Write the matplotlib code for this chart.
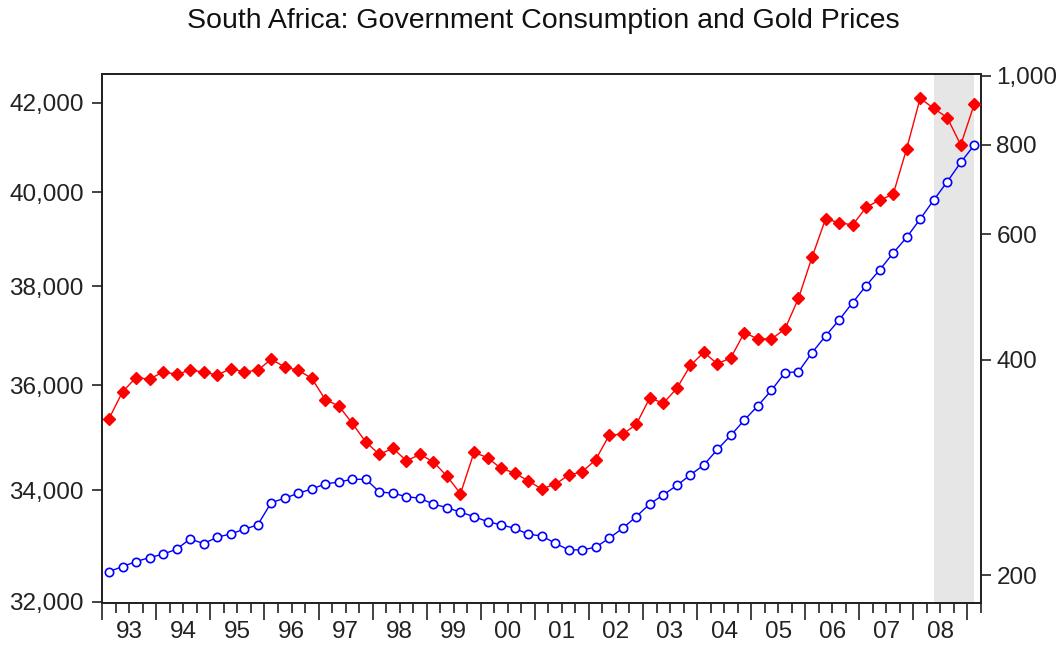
import matplotlib.pyplot as plt
import matplotlib.ticker as mticker
import matplotlib.transforms as mtrans
import numpy as np

plt.rcParams['font.family'] = ['Liberation Sans', 'DejaVu Sans']

# quarterly data 1993Q1 - 2009Q1
gov_consumption = [32527, 32616, 32705, 32776, 32837, 32926, 33111, 33027,
                   33142, 33201, 33286, 33365, 33773, 33853, 33946, 34025,
                   34118, 34155, 34205, 34205, 33970, 33946, 33883, 33853,
                   33744, 33681, 33597, 33516, 33425, 33365, 33305, 33196,
                   33166, 33034, 32914, 32914, 32962, 33124, 33305, 33516,
                   33749, 33915, 34090, 34286, 34473, 34765, 35035, 35328,
                   35604, 35904, 36250, 36270, 36647, 36982, 37305, 37659,
                   38009, 38336, 38692, 39024, 39415, 39825, 40224, 40651,
                   41036]
gold_price = [331, 361, 378, 376, 385, 382, 387, 385,
              381, 389, 385, 387, 401, 391, 387, 377,
              352, 345, 326, 307, 295, 301, 289, 295,
              288, 275, 260, 297, 292, 282, 278, 271,
              264, 268, 276, 279, 290, 314, 315, 325,
              354, 348, 365, 393, 410, 395, 403, 437,
              428, 428, 442, 488, 557, 630, 623, 618,
              654, 670, 682, 790, 930, 900, 874, 800,
              912]
year_labels = ['93', '94', '95', '96', '97', '98', '99', '00',
               '01', '02', '03', '04', '05', '06', '07', '08']
left_ticks = [32000, 34000, 36000, 38000, 40000, 42000]
right_ticks = [200, 400, 600, 800, 1000]
shade_from = 61   # 2008Q2
shade_to = 64     # 2009Q1

first_year = 1993
x = first_year + (np.arange(len(gov_consumption)) + 0.5) / 4

fig = plt.figure(figsize=(10.61, 6.48), dpi=100)
ax = fig.add_axes([0.0961, 0.069, 0.8285, 0.8163])
ax2 = ax.twinx()

ax.axvspan(x[shade_from], x[shade_to], color='#e6e6e6', lw=0, zorder=0)

ax.plot(x, gov_consumption, color='#0000ff', lw=1, marker='o', ms=6,
        mfc='white', mec='#0000ff', mew=1.2, zorder=3)
ax2.plot(x, gold_price, color='#ff0000', lw=1, marker='D', ms=6.3,
         mfc='#ff0000', mec='#ff0000', zorder=3)

ax.set_yscale('log')
ax.set_ylim(31970, 42650)
ax.yaxis.set_major_locator(mticker.FixedLocator(left_ticks))
ax.yaxis.set_minor_locator(mticker.NullLocator())
ax.yaxis.set_major_formatter(mticker.FuncFormatter(lambda v, p: f'{v:,.0f}'))

ax2.set_yscale('log')
ax2.set_ylim(182.6, 1004.5)
ax2.yaxis.set_major_locator(mticker.FixedLocator(right_ticks))
ax2.yaxis.set_minor_locator(mticker.NullLocator())
ax2.yaxis.set_major_formatter(mticker.FuncFormatter(lambda v, p: f'{v:,.0f}'))

n_years = len(year_labels)
ax.set_xlim(first_year - 0.005, first_year + n_years + 0.25)
ax.set_xticks(np.arange(first_year, first_year + n_years + 1))
ax.set_xticks(np.arange(first_year, first_year + n_years + 0.3, 0.25), minor=True)
ax.set_xticklabels([])
ax.tick_params(axis='x', which='major', length=12, width=1.2, color='#222222')
ax.tick_params(axis='x', which='minor', length=7, width=1.2, color='#222222')
ax.tick_params(axis='y', which='major', length=7, width=1.2, pad=6,
               labelsize=17.5, color='#222222', labelcolor='#222222')
ax2.tick_params(axis='y', which='major', length=7, width=1.2, pad=4,
                labelsize=17.5, color='#222222', labelcolor='#222222')

trans = mtrans.blended_transform_factory(ax.transData, ax.transAxes)
for i, lab in enumerate(year_labels):
    ax.text(first_year + i + 0.5, -0.034, lab, transform=trans, ha='center',
            va='top', fontsize=17.5, color='#222222')

for a in (ax, ax2):
    for s in a.spines.values():
        s.set_color('#222222')
        s.set_linewidth(1.3)

fig.text(0.5118, 0.9563, 'South Africa: Government Consumption and Gold Prices',
         ha='center', va='baseline', fontsize=20.5, color='#111111')

fig.savefig('out.png', dpi=100)
